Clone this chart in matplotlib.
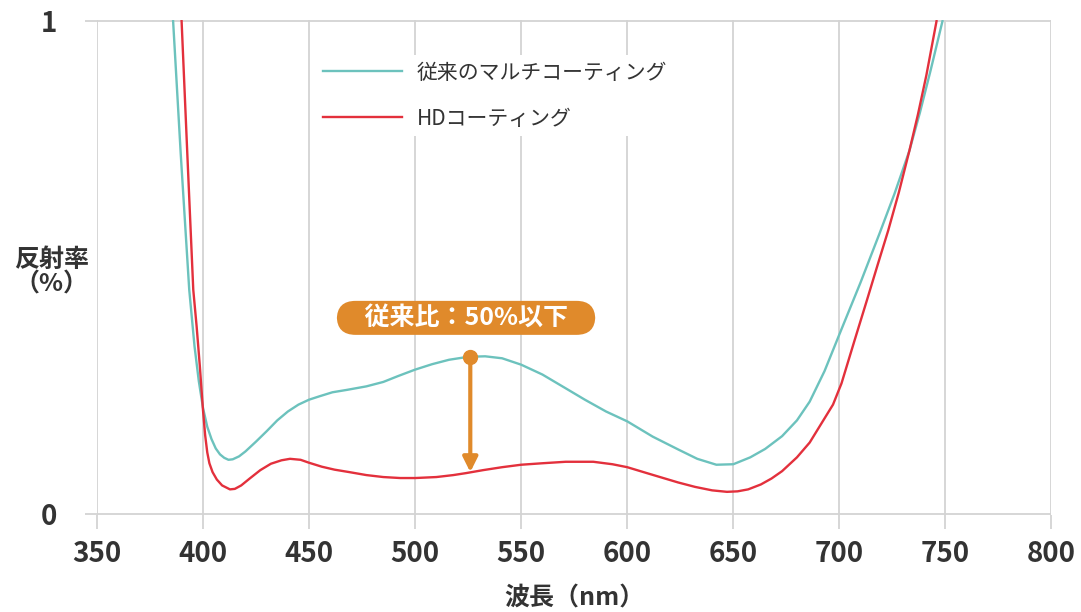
import matplotlib
matplotlib.use('Agg')
import matplotlib.pyplot as plt

plt.rcParams['font.family'] = ['Noto Sans CJK JP', 'DejaVu Sans']

# wavelength (nm) / reflectance
wl_multi = [385.9, 389.5, 393.5, 396, 398, 400, 402, 404, 406, 408, 410, 412, 414, 417,
            420, 425, 430, 435, 440, 445, 450, 455, 461, 468, 477, 485, 492, 500, 508,
            516, 525, 533, 541, 550, 560, 571, 580, 590, 600, 612, 624, 633, 642, 650,
            658, 665, 673, 680, 686, 693, 701, 710, 719, 726, 733, 738, 743, 748.6]
r_multi = [1.0, 0.73, 0.455, 0.34, 0.27, 0.215, 0.177, 0.152, 0.133, 0.121, 0.114, 0.110,
           0.111, 0.117, 0.127, 0.147, 0.168, 0.190, 0.208, 0.222, 0.232, 0.239, 0.247,
           0.252, 0.259, 0.268, 0.280, 0.293, 0.304, 0.313, 0.319, 0.320, 0.316, 0.303,
           0.283, 0.255, 0.232, 0.208, 0.188, 0.157, 0.131, 0.112, 0.100, 0.101, 0.115,
           0.132, 0.158, 0.190, 0.228, 0.29, 0.375, 0.47, 0.570, 0.650, 0.737, 0.815,
           0.90, 1.0]

wl_hd = [389.9, 392.6, 395.4, 397, 398.5, 400, 401, 402, 403, 404.5, 406.5, 409, 412.7,
         415, 418, 422, 427, 432, 437, 441, 446, 450, 456, 462, 469, 477, 485, 493, 500,
         510, 518, 524, 532, 541, 550, 560, 571, 584, 593, 600, 610, 617, 624, 632, 640,
         647, 652, 657, 663, 668, 673, 680, 686, 691, 697, 701, 707, 713, 718, 723, 728,
         733, 737, 741, 745.8]
r_hd = [1.0, 0.73, 0.455, 0.38, 0.30, 0.21, 0.16, 0.125, 0.103, 0.085, 0.07, 0.058, 0.05,
        0.051, 0.058, 0.072, 0.089, 0.102, 0.109, 0.112, 0.110, 0.104, 0.096, 0.090,
        0.085, 0.079, 0.075, 0.073, 0.073, 0.075, 0.079, 0.083, 0.089, 0.095, 0.100,
        0.103, 0.106, 0.106, 0.101, 0.095, 0.082, 0.073, 0.064, 0.055, 0.048, 0.045,
        0.046, 0.05, 0.06, 0.072, 0.087, 0.115, 0.145, 0.18, 0.222, 0.265, 0.35, 0.434,
        0.505, 0.575, 0.652, 0.737, 0.81, 0.89, 1.0]

labels = ['従来のマルチコーティング', 'HDコーティング']
xticks = [350, 400, 450, 500, 550, 600, 650, 700, 750, 800]
yticks = [0, 1]

# arrow between the two curves
arrow_x = 526
arrow_top = 0.319
arrow_bottom = 0.085

teal = '#6cc2bd'
red = '#e3303c'
orange = '#e08a2b'
grey = '#d3d3d3'
txt = '#333333'

fig = plt.figure(figsize=(10.81, 6.12), dpi=100)
ax = fig.add_axes([0.0897, 0.1585, 0.883, 0.8085])

ax.plot(wl_multi, r_multi, color=teal, lw=1.7, label=labels[0], zorder=3)
ax.plot(wl_hd, r_hd, color=red, lw=1.7, label=labels[1], zorder=3)

ax.set_xlim(350, 800)
ax.set_ylim(-0.002, 1.002)
ax.set_xticks(xticks)
ax.set_yticks(yticks)
ax.grid(True, color=grey, lw=1.3)
ax.set_axisbelow(True)
for s in ax.spines.values():
    s.set_visible(False)
ax.tick_params(axis='x', length=10, width=1.3, color=grey, pad=8,
               labelsize=20, labelcolor=txt)
ax.tick_params(axis='y', length=9, width=1.3, color=grey, pad=20,
               labelsize=20, labelcolor=txt)
for lab in ax.get_xticklabels() + ax.get_yticklabels():
    lab.set_fontweight('bold')

ax.set_xlabel('波長（nm）', fontsize=18, fontweight='bold', color=txt, labelpad=13)
fig.text(0.048, 0.555, '反射率\n（%）', fontsize=18, fontweight='bold', color=txt,
         ha='center', va='center', linespacing=1.0)

leg = ax.legend(loc='upper left', bbox_to_anchor=(0.219, 0.95), frameon=True,
                facecolor='white', edgecolor='none', framealpha=1, fontsize=15,
                handlelength=3.8, handletextpad=0.7, labelspacing=1.15, borderpad=0.3)
for t in leg.get_texts():
    t.set_color(txt)

ax.annotate('', xy=(arrow_x, arrow_bottom), xytext=(arrow_x, arrow_top),
            arrowprops=dict(arrowstyle='-|>', color=orange, lw=3, mutation_scale=22,
                            shrinkA=0, shrinkB=0), zorder=5)
ax.plot([arrow_x], [arrow_top], 'o', color=orange, ms=10, zorder=6)

ax.text(524, 0.398, '    従来比：50%以下    ', ha='center', va='center', color='white',
        fontsize=18, fontweight='bold', zorder=6,
        bbox=dict(boxstyle='round,pad=0.2,rounding_size=0.75', fc=orange, ec='none'))

fig.savefig('out.png', dpi=100, facecolor='white')
